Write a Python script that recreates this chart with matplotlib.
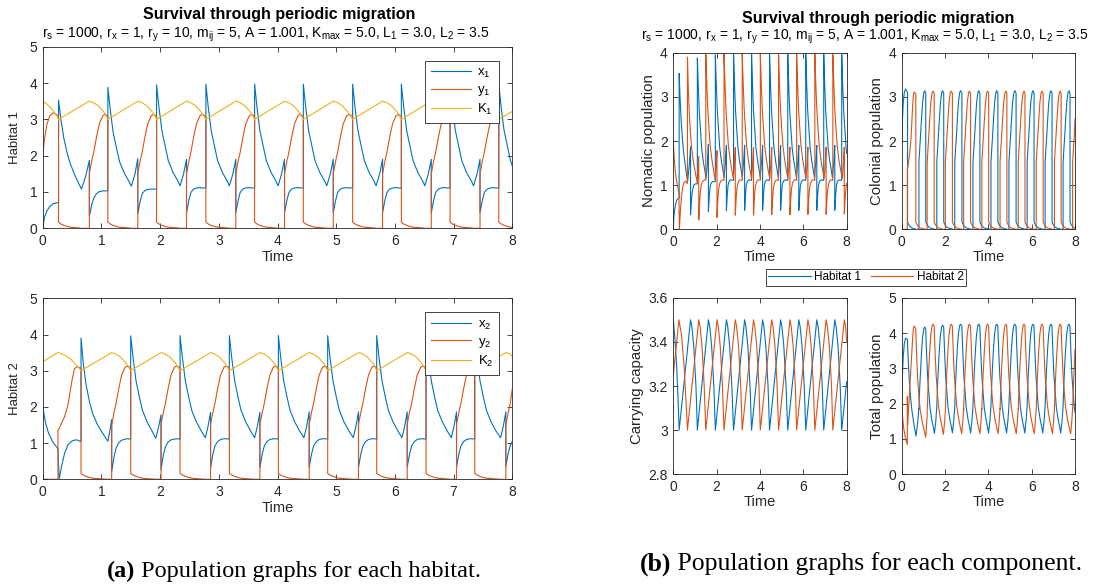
import matplotlib
matplotlib.use("Agg")
import matplotlib.pyplot as plt
from matplotlib.ticker import FormatStrFormatter

plt.rcParams['font.family'] = ['Liberation Sans', 'DejaVu Sans']
plt.rcParams['mathtext.default'] = 'regular'

# ---- data (time, value) ----
# habitat 1: nomadic x1 and colonial y1 share one time grid
t1 = [
    0.00, 0.03, 0.07, 0.12, 0.18,
    0.27, 0.27, 0.31, 0.36, 0.42, 0.47, 0.55, 0.61, 0.66, 0.73, 0.795, 0.795, 0.835, 0.87, 0.915, 0.965, 1.025, 1.065,
    1.11, 1.11, 1.15, 1.20, 1.26, 1.31, 1.39, 1.47, 1.51, 1.57, 1.62, 1.62, 1.66, 1.695, 1.74, 1.79, 1.85, 1.89,
    1.94, 1.94, 1.98, 2.03, 2.09, 2.14, 2.22, 2.30, 2.34, 2.40, 2.45, 2.45, 2.49, 2.525, 2.57, 2.62, 2.68, 2.72,
    2.78, 2.78, 2.82, 2.87, 2.93, 2.98, 3.06, 3.14, 3.18, 3.24, 3.29, 3.29, 3.33, 3.365, 3.41, 3.46, 3.52, 3.56,
    3.61, 3.61, 3.65, 3.70, 3.76, 3.81, 3.89, 3.97, 4.01, 4.07, 4.12, 4.12, 4.16, 4.195, 4.24, 4.29, 4.35, 4.39,
    4.44, 4.44, 4.48, 4.53, 4.59, 4.64, 4.72, 4.80, 4.84, 4.90, 4.95, 4.95, 4.99, 5.025, 5.07, 5.12, 5.18, 5.22,
    5.28, 5.28, 5.32, 5.37, 5.43, 5.48, 5.56, 5.64, 5.68, 5.74, 5.79, 5.79, 5.83, 5.865, 5.91, 5.96, 6.02, 6.06,
    6.11, 6.11, 6.15, 6.20, 6.26, 6.31, 6.39, 6.47, 6.51, 6.57, 6.62, 6.62, 6.66, 6.695, 6.74, 6.79, 6.85, 6.89,
    6.94, 6.94, 6.98, 7.03, 7.09, 7.14, 7.22, 7.30, 7.34, 7.40, 7.45, 7.45, 7.49, 7.525, 7.57, 7.62, 7.68, 7.72,
    7.77, 7.77, 7.81, 7.86, 7.92, 7.97, 8.00,
]
x1 = [
    0.00, 0.30, 0.47, 0.60, 0.68,
    0.71, 3.53, 3.00, 2.48, 2.05, 1.78, 1.45, 1.25, 1.08, 1.42, 1.87, 0.33, 0.65, 0.83, 0.95, 1.01, 1.03, 1.03,
    1.03, 3.88, 3.28, 2.64, 2.19, 1.83, 1.52, 1.29, 1.16, 1.48, 1.92, 0.40, 0.74, 0.95, 1.04, 1.07, 1.08, 1.08,
    1.08, 3.95, 3.34, 2.69, 2.23, 1.86, 1.54, 1.31, 1.17, 1.50, 1.90, 0.42, 0.77, 0.99, 1.08, 1.11, 1.12, 1.11,
    1.11, 3.97, 3.34, 2.69, 2.23, 1.86, 1.54, 1.31, 1.17, 1.50, 1.90, 0.43, 0.77, 0.99, 1.08, 1.11, 1.12, 1.11,
    1.11, 3.97, 3.34, 2.69, 2.23, 1.86, 1.54, 1.31, 1.17, 1.50, 1.90, 0.43, 0.77, 0.99, 1.08, 1.11, 1.12, 1.11,
    1.11, 3.97, 3.34, 2.69, 2.23, 1.86, 1.54, 1.31, 1.17, 1.50, 1.90, 0.43, 0.77, 0.99, 1.08, 1.11, 1.12, 1.11,
    1.11, 3.97, 3.34, 2.69, 2.23, 1.86, 1.54, 1.31, 1.17, 1.50, 1.90, 0.43, 0.77, 0.99, 1.08, 1.11, 1.12, 1.11,
    1.11, 3.97, 3.34, 2.69, 2.23, 1.86, 1.54, 1.31, 1.17, 1.50, 1.90, 0.43, 0.77, 0.99, 1.08, 1.11, 1.12, 1.11,
    1.11, 3.97, 3.34, 2.69, 2.23, 1.86, 1.54, 1.31, 1.17, 1.50, 1.90, 0.43, 0.77, 0.99, 1.08, 1.11, 1.12, 1.11,
    1.11, 3.96, 3.34, 2.69, 2.23, 1.86, 1.72,
]
y1 = [
    2.00, 2.45, 2.85, 3.10, 3.18,
    3.10, 0.17, 0.12, 0.08, 0.05, 0.03, 0.02, 0.01, 0.00, 0.00, 0.00, 1.52, 1.85, 2.10, 2.50, 2.88, 3.10, 3.14,
    3.08, 0.17, 0.12, 0.08, 0.05, 0.03, 0.02, 0.01, 0.00, 0.00, 0.00, 1.52, 1.85, 2.10, 2.50, 2.88, 3.10, 3.14,
    3.08, 0.17, 0.12, 0.08, 0.05, 0.03, 0.02, 0.01, 0.00, 0.00, 0.00, 1.50, 1.85, 2.10, 2.50, 2.88, 3.10, 3.14,
    3.08, 0.17, 0.12, 0.08, 0.05, 0.03, 0.02, 0.01, 0.00, 0.00, 0.00, 1.50, 1.85, 2.10, 2.50, 2.88, 3.10, 3.14,
    3.08, 0.17, 0.12, 0.08, 0.05, 0.03, 0.02, 0.01, 0.00, 0.00, 0.00, 1.50, 1.85, 2.10, 2.50, 2.88, 3.10, 3.14,
    3.08, 0.17, 0.12, 0.08, 0.05, 0.03, 0.02, 0.01, 0.00, 0.00, 0.00, 1.50, 1.85, 2.10, 2.50, 2.88, 3.10, 3.14,
    3.08, 0.17, 0.12, 0.08, 0.05, 0.03, 0.02, 0.01, 0.00, 0.00, 0.00, 1.50, 1.85, 2.10, 2.50, 2.88, 3.10, 3.14,
    3.08, 0.17, 0.12, 0.08, 0.05, 0.03, 0.02, 0.01, 0.00, 0.00, 0.00, 1.50, 1.85, 2.10, 2.50, 2.88, 3.10, 3.14,
    3.08, 0.17, 0.12, 0.08, 0.05, 0.03, 0.02, 0.01, 0.00, 0.00, 0.00, 1.50, 1.85, 2.10, 2.50, 2.88, 3.10, 3.14,
    3.08, 0.17, 0.12, 0.08, 0.05, 0.03, 0.03,
]
# carrying capacity of habitat 1
tk1 = [
    0.00, 0.07, 0.15, 0.22, 0.27,
    0.795, 0.855, 0.945, 1.045, 1.11,
    1.62, 1.68, 1.77, 1.87, 1.94,
    2.45, 2.51, 2.60, 2.70, 2.78,
    3.29, 3.35, 3.44, 3.54, 3.61,
    4.12, 4.18, 4.27, 4.37, 4.44,
    4.95, 5.01, 5.10, 5.20, 5.28,
    5.79, 5.85, 5.94, 6.04, 6.11,
    6.62, 6.68, 6.77, 6.87, 6.94,
    7.45, 7.51, 7.60, 7.70, 7.77,
    8.00,
]
k1 = [
    3.50, 3.42, 3.30, 3.14, 3.00,
    3.50, 3.47, 3.38, 3.20, 3.00,
    3.50, 3.47, 3.38, 3.20, 3.00,
    3.50, 3.47, 3.38, 3.20, 3.00,
    3.50, 3.47, 3.38, 3.20, 3.00,
    3.50, 3.47, 3.38, 3.20, 3.00,
    3.50, 3.47, 3.38, 3.20, 3.00,
    3.50, 3.47, 3.38, 3.20, 3.00,
    3.50, 3.47, 3.38, 3.20, 3.00,
    3.50, 3.47, 3.38, 3.20, 3.00,
    3.22,
]

# habitat 2
t2 = [
    0.00, 0.05, 0.10, 0.17, 0.26, 0.26, 0.28, 0.32, 0.37, 0.43, 0.50, 0.54, 0.58,
    0.653, 0.653, 0.69, 0.74, 0.80, 0.85, 0.93, 1.01, 1.11, 1.145, 1.175, 1.175, 1.215, 1.25, 1.295, 1.345, 1.405, 1.445,
    1.499, 1.499, 1.54, 1.59, 1.65, 1.70, 1.78, 1.86, 1.926, 1.971, 2.016, 2.016, 2.056, 2.091, 2.136, 2.186, 2.246, 2.286,
    2.34, 2.34, 2.38, 2.43, 2.49, 2.54, 2.62, 2.70, 2.77, 2.815, 2.86, 2.86, 2.90, 2.935, 2.98, 3.03, 3.09, 3.13,
    3.18, 3.18, 3.22, 3.27, 3.33, 3.38, 3.46, 3.54, 3.61, 3.655, 3.70, 3.70, 3.74, 3.775, 3.82, 3.87, 3.93, 3.97,
    4.015, 4.015, 4.055, 4.105, 4.165, 4.215, 4.295, 4.375, 4.45, 4.495, 4.54, 4.54, 4.58, 4.615, 4.66, 4.71, 4.77, 4.81,
    4.855, 4.855, 4.895, 4.945, 5.005, 5.055, 5.135, 5.215, 5.29, 5.335, 5.38, 5.38, 5.42, 5.455, 5.50, 5.55, 5.61, 5.65,
    5.69, 5.69, 5.73, 5.78, 5.84, 5.89, 5.97, 6.05, 6.12, 6.165, 6.21, 6.21, 6.25, 6.285, 6.33, 6.38, 6.44, 6.48,
    6.53, 6.53, 6.57, 6.62, 6.68, 6.73, 6.81, 6.89, 6.96, 7.005, 7.05, 7.05, 7.09, 7.125, 7.17, 7.22, 7.28, 7.32,
    7.36, 7.36, 7.40, 7.45, 7.51, 7.56, 7.64, 7.72, 7.80, 7.845, 7.89, 7.89, 7.93, 7.965, 8.00,
]
x2 = [
    2.00, 1.55, 1.27, 1.04, 0.84, 0.84, 0.00, 0.35, 0.70, 0.95, 1.06, 1.08, 1.09,
    1.04, 3.90, 3.22, 2.60, 2.12, 1.82, 1.52, 1.30, 1.05, 1.35, 1.65, 0.21, 0.62, 0.86, 1.01, 1.08, 1.11, 1.12,
    1.11, 3.96, 3.36, 2.72, 2.25, 1.90, 1.58, 1.34, 1.13, 1.42, 1.78, 0.27, 0.68, 0.90, 1.03, 1.09, 1.11, 1.12,
    1.11, 3.97, 3.36, 2.72, 2.25, 1.90, 1.58, 1.34, 1.15, 1.45, 1.85, 0.32, 0.70, 0.92, 1.04, 1.10, 1.12, 1.12,
    1.11, 3.97, 3.36, 2.72, 2.25, 1.90, 1.58, 1.34, 1.15, 1.45, 1.85, 0.32, 0.70, 0.92, 1.04, 1.10, 1.12, 1.12,
    1.11, 3.97, 3.36, 2.72, 2.25, 1.90, 1.58, 1.34, 1.15, 1.45, 1.86, 0.33, 0.70, 0.92, 1.04, 1.10, 1.12, 1.12,
    1.11, 3.97, 3.36, 2.72, 2.25, 1.90, 1.58, 1.34, 1.15, 1.45, 1.86, 0.33, 0.70, 0.92, 1.04, 1.10, 1.12, 1.12,
    1.11, 3.97, 3.36, 2.72, 2.25, 1.90, 1.58, 1.34, 1.15, 1.45, 1.86, 0.34, 0.70, 0.92, 1.04, 1.10, 1.12, 1.12,
    1.11, 3.97, 3.36, 2.72, 2.25, 1.90, 1.58, 1.34, 1.15, 1.45, 1.86, 0.34, 0.70, 0.92, 1.04, 1.10, 1.12, 1.12,
    1.11, 3.96, 3.36, 2.72, 2.25, 1.90, 1.58, 1.34, 1.15, 1.45, 1.86, 0.35, 0.72, 0.92, 1.04,
]
y2 = [
    0.00, 0.00, 0.00, 0.00, 0.00, 1.36, 1.40, 1.55, 1.72, 2.05, 2.74, 3.05, 3.11,
    3.07, 0.16, 0.12, 0.08, 0.05, 0.03, 0.02, 0.01, 0.00, 0.00, 0.00, 1.48, 1.85, 2.10, 2.50, 2.88, 3.10, 3.13,
    3.08, 0.16, 0.12, 0.08, 0.05, 0.03, 0.02, 0.01, 0.00, 0.00, 0.00, 1.52, 1.85, 2.10, 2.50, 2.88, 3.10, 3.13,
    3.08, 0.16, 0.12, 0.08, 0.05, 0.03, 0.02, 0.01, 0.00, 0.00, 0.00, 1.52, 1.85, 2.10, 2.50, 2.88, 3.10, 3.13,
    3.08, 0.16, 0.12, 0.08, 0.05, 0.03, 0.02, 0.01, 0.00, 0.00, 0.00, 1.52, 1.85, 2.10, 2.50, 2.88, 3.10, 3.13,
    3.08, 0.16, 0.12, 0.08, 0.05, 0.03, 0.02, 0.01, 0.00, 0.00, 0.00, 1.52, 1.85, 2.10, 2.50, 2.88, 3.10, 3.13,
    3.08, 0.16, 0.12, 0.08, 0.05, 0.03, 0.02, 0.01, 0.00, 0.00, 0.00, 1.52, 1.85, 2.10, 2.50, 2.88, 3.10, 3.13,
    3.08, 0.16, 0.12, 0.08, 0.05, 0.03, 0.02, 0.01, 0.00, 0.00, 0.00, 1.52, 1.85, 2.10, 2.50, 2.88, 3.10, 3.13,
    3.08, 0.16, 0.12, 0.08, 0.05, 0.03, 0.02, 0.01, 0.00, 0.00, 0.00, 1.52, 1.85, 2.10, 2.50, 2.88, 3.10, 3.13,
    3.08, 0.16, 0.12, 0.08, 0.05, 0.03, 0.02, 0.01, 0.00, 0.00, 0.00, 1.50, 1.85, 2.10, 2.50,
]
tk2 = [
    0.00, 0.26, 0.38, 0.49, 0.57, 0.62, 0.653,
    1.175, 1.235, 1.325, 1.425, 1.499,
    2.016, 2.076, 2.166, 2.266, 2.34,
    2.86, 2.92, 3.01, 3.11, 3.18,
    3.70, 3.76, 3.85, 3.95, 4.015,
    4.54, 4.60, 4.69, 4.79, 4.855,
    5.38, 5.44, 5.53, 5.63, 5.69,
    6.21, 6.27, 6.36, 6.46, 6.53,
    7.05, 7.11, 7.20, 7.30, 7.36,
    7.89, 7.95, 8.00,
]
k2 = [
    3.25, 3.50, 3.43, 3.30, 3.16, 3.07, 3.00,
    3.50, 3.47, 3.38, 3.20, 3.00,
    3.50, 3.47, 3.38, 3.20, 3.00,
    3.50, 3.47, 3.38, 3.20, 3.00,
    3.50, 3.47, 3.38, 3.20, 3.00,
    3.50, 3.47, 3.38, 3.20, 3.00,
    3.50, 3.47, 3.38, 3.20, 3.00,
    3.50, 3.47, 3.38, 3.20, 3.00,
    3.50, 3.47, 3.38, 3.20, 3.00,
    3.50, 3.47, 3.40,
]

# total population per habitat
tot1 = [a + b for a, b in zip(x1, y1)]
tot2 = [a + b for a, b in zip(x2, y2)]

BLUE = '#0072BD'
ORANGE = '#D95319'
YELLOW = '#EDB120'
INK = '#262626'
LW = 0.8
SUBTITLE = ('r$_s$ = 1000, r$_x$ = 1, r$_y$ = 10, m$_{ij}$ = 5, A = 1.001, '
            'K$_{max}$ = 5.0, L$_1$ = 3.0, L$_2$ = 3.5')

W, H = 1098, 587


def make_axes(fig, left, top, right, bottom):
    """axes from pixel box (top-left origin)"""
    ax = fig.add_axes([left / W, 1 - bottom / H, (right - left) / W, (bottom - top) / H])
    for s in ax.spines.values():
        s.set_color(INK)
        s.set_linewidth(0.6)
    ax.tick_params(direction='in', top=True, right=True, length=3.5, width=0.6,
                   colors=INK, labelsize=10, pad=4)
    return ax


def habitat_panel(ax, t, x, y, tk, k, idx):
    ax.plot(t, x, color=BLUE, lw=LW, label='x$_%d$' % idx)
    ax.plot(t, y, color=ORANGE, lw=LW, label='y$_%d$' % idx)
    ax.plot(tk, k, color=YELLOW, lw=LW, label='K$_%d$' % idx)
    ax.set_xlim(0, 8)
    ax.set_ylim(0, 5)
    ax.set_xticks(range(0, 9))
    ax.set_yticks(range(0, 6))
    ax.set_xlabel('Time', fontsize=10.5, color=INK, labelpad=1.5)
    ax.set_ylabel('Habitat %d' % idx, fontsize=9.5, color=INK, labelpad=6)
    leg = ax.legend(loc='upper right', bbox_to_anchor=(0.972, 0.923), fontsize=9.5,
                    handlelength=3.0, handletextpad=0.5, fancybox=False, framealpha=1,
                    borderpad=0.45, labelspacing=0.3, borderaxespad=0)
    leg.get_frame().set_edgecolor(INK)
    leg.get_frame().set_linewidth(0.6)


def component_panel(ax, s1, s2, ylim, yticks, ylabel, t_a, t_b):
    ax.plot(t_a, s1, color=BLUE, lw=LW)
    ax.plot(t_b, s2, color=ORANGE, lw=LW)
    ax.set_xlim(0, 8)
    ax.set_ylim(*ylim)
    ax.set_xticks([0, 2, 4, 6, 8])
    ax.set_yticks(yticks)
    ax.yaxis.set_major_formatter(FormatStrFormatter('%g'))
    ax.set_xlabel('Time', fontsize=10.5, color=INK, labelpad=1)
    ax.set_ylabel(ylabel, fontsize=10.8, color=INK, labelpad=3)


fig = plt.figure(figsize=(W / 100, H / 100), dpi=100)

# ---- (a) per habitat ----
ax_h1 = make_axes(fig, 42.7, 46.7, 512.3, 228.3)
habitat_panel(ax_h1, t1, x1, y1, tk1, k1, 1)
ax_h2 = make_axes(fig, 42.7, 298.3, 512.3, 479.3)
habitat_panel(ax_h2, t2, x2, y2, tk2, k2, 2)

fig.text(279 / W, 1 - 15 / H, 'Survival through periodic migration', ha='center', va='center',
         fontsize=11.5, fontweight='bold', color='black')
fig.text(266 / W, 1 - 35 / H, SUBTITLE, ha='center', va='center', fontsize=10, color='black')

# ---- (b) per component ----
ax_nom = make_axes(fig, 673.3, 52.7, 846.7, 229.3)
component_panel(ax_nom, x1, x2, (0, 4), [0, 1, 2, 3, 4], 'Nomadic population', t1, t2)
ax_col = make_axes(fig, 901.7, 52.7, 1075, 229.3)
component_panel(ax_col, y1, y2, (0, 4), [0, 1, 2, 3, 4], 'Colonial population', t1, t2)
ax_cap = make_axes(fig, 673.3, 297.7, 846.7, 474.3)
component_panel(ax_cap, k1, k2, (2.8, 3.6), [2.8, 3.0, 3.2, 3.4, 3.6], 'Carrying capacity', tk1, tk2)
ax_tot = make_axes(fig, 901.7, 297.7, 1075, 474.3)
component_panel(ax_tot, tot1, tot2, (0, 5), [0, 1, 2, 3, 4, 5], 'Total population', t1, t2)

fig.text(878 / W, 1 - 19 / H, 'Survival through periodic migration', ha='center', va='center',
         fontsize=11.5, fontweight='bold', color='black')
fig.text(865 / W, 1 - 36.5 / H, SUBTITLE, ha='center', va='center', fontsize=10, color='black')

handles = ax_nom.get_lines()
leg = fig.legend(handles, ['Habitat 1', 'Habitat 2'], loc='center', ncol=2,
                 bbox_to_anchor=(866 / W, 1 - 277.5 / H), fontsize=8.5, handlelength=3.6,
                 fancybox=False, framealpha=1, borderpad=0.2, columnspacing=0.8,
                 handletextpad=0.3)
leg.get_frame().set_edgecolor(INK)
leg.get_frame().set_linewidth(0.6)

# ---- captions ----
fig.canvas.draw()
renderer = fig.canvas.get_renderer()
for x0, y0, tag, body, size in [(107, 571, '(a)', ' Population graphs for each habitat.', 17.5),
                                (640, 564, '(b)', ' Population graphs for each component.', 18.5)]:
    tag_txt = fig.text(x0 / W, 1 - y0 / H, tag, ha='left', va='center', fontsize=size,
                       fontweight='bold', family='Liberation Serif')
    bb = tag_txt.get_window_extent(renderer)
    fig.text(bb.x1 / W, 1 - y0 / H, body, ha='left', va='center', fontsize=size,
             family='Liberation Serif')

fig.savefig('out.png', dpi=100)
